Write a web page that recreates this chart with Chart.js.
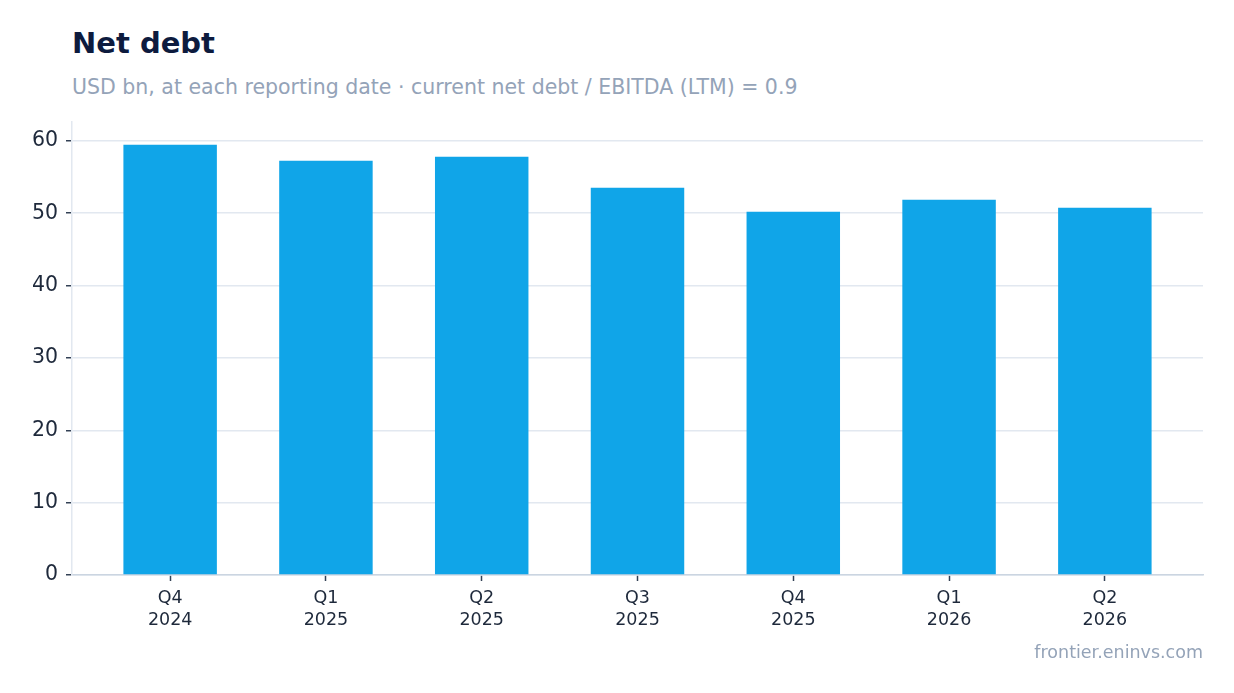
<!DOCTYPE html>
<html>
<head>
<meta charset="utf-8">
<script src="https://cdn.jsdelivr.net/npm/chart.js@4.4.1/dist/chart.umd.min.js"></script>
<style>
  html, body { margin: 0; padding: 0; background: #ffffff; }
  body { width: 1234px; height: 693px; position: relative; overflow: hidden; font-family: "DejaVu Sans", sans-serif; }
  .title { position: absolute; left: 72px; top: 26px; font-size: 29px; font-weight: bold; color: #0d1b3e; line-height: normal; white-space: nowrap; }
  .subtitle { position: absolute; left: 72px; top: 75px; font-size: 20.5px; color: #94a3b8; line-height: normal; white-space: nowrap; }
  .footer { position: absolute; right: 31px; top: 642px; font-size: 17.5px; color: #94a3b8; line-height: normal; white-space: nowrap; }
  .wrap { position: absolute; left: 0; top: 0; width: 1234px; height: 693px; }
</style>
</head>
<body>
<div class="title">Net debt</div>
<div class="subtitle">USD bn, at each reporting date · current net debt / EBITDA (LTM) = 0.9</div>
<div class="wrap"><canvas id="chart"></canvas></div>
<div class="footer">frontier.eninvs.com</div>

<script>
  const quarters = ["Q4", "Q1", "Q2", "Q3", "Q4", "Q1", "Q2"]
  const years = ["2024", "2025", "2025", "2025", "2025", "2026", "2026"]
  const netDebt = [59.45, 57.25, 57.8, 53.5, 50.2, 51.85, 50.75]
  const yTicks = [0, 10, 20, 30, 40, 50, 60]

  const tickInk = "#334155"
  const labelInk = "#1e293b"
  const gridInk = "#e2e8f0"

  new Chart(document.getElementById("chart"), {
    type: "bar",
    data: {
      datasets: [{
        data: netDebt.map((v, i) => ({ x: i, y: v })),
        backgroundColor: "#10a5e8",
        borderWidth: 0,
        barPercentage: 0.6,
        categoryPercentage: 1
      }]
    },
    options: {
      responsive: true,
      maintainAspectRatio: false,
      animation: false,
      devicePixelRatio: 1,
      layout: {
        padding: { left: 22, right: 31, top: 122, bottom: 58 }
      },
      plugins: {
        legend: { display: false },
        tooltip: { enabled: false }
      },
      scales: {
        x: {
          type: "linear",
          min: -0.63,
          max: 6.63,
          offset: false,
          afterBuildTicks: (scale) => {
            scale.ticks = quarters.map((q, i) => ({ value: i }))
          },
          afterFit: (scale) => { scale.height = 60 },
          grid: {
            offset: false,
            drawOnChartArea: false,
            drawTicks: true,
            tickLength: 6,
            tickColor: tickInk,
            tickWidth: 1.5
          },
          border: { color: "#cbd5e1", width: 1.5 },
          ticks: {
            autoSkip: false,
            maxRotation: 0,
            padding: 7,
            color: labelInk,
            font: { family: "DejaVu Sans", size: 17.5, lineHeight: 1.25 },
            callback: (value) => [quarters[value], years[value]]
          }
        },
        y: {
          min: 0,
          max: 62.6,
          afterBuildTicks: (scale) => {
            scale.ticks = yTicks.map((v) => ({ value: v }))
          },
          afterFit: (scale) => { scale.width = 50 },
          grid: {
            color: gridInk,
            lineWidth: 1.5,
            drawTicks: true,
            tickLength: 6,
            tickColor: tickInk,
            tickWidth: 1.5
          },
          border: { color: gridInk, width: 1.5 },
          ticks: {
            padding: 8,
            color: labelInk,
            font: { family: "DejaVu Sans", size: 20.5 }
          }
        }
      }
    }
  })
</script>
</body>
</html>
